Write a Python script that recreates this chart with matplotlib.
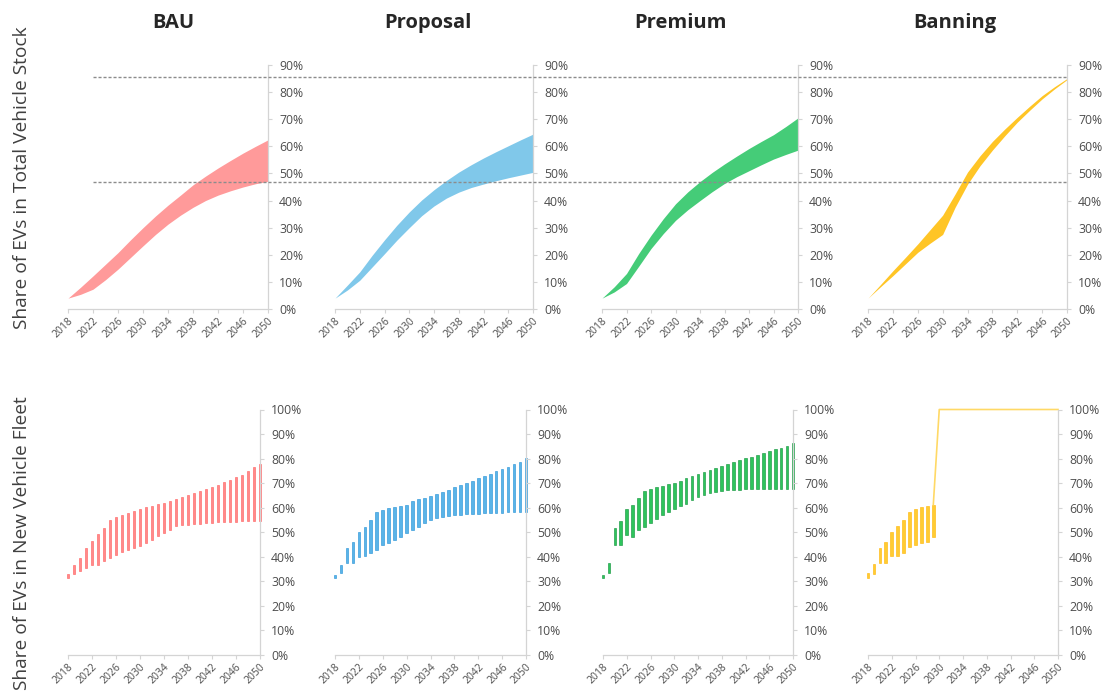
import matplotlib
matplotlib.use("Agg")
import numpy as np
import matplotlib.pyplot as plt
from matplotlib.lines import Line2D
from matplotlib.ticker import FuncFormatter

plt.rcParams["font.family"] = ["Open Sans", "DejaVu Sans"]

# ---------------- data ----------------
scenarios = ["BAU", "Proposal", "Premium", "Banning"]

# Share of EVs in total vehicle stock (%), lower / upper bound of the range
stock_years = [2018, 2020, 2022, 2024, 2026, 2028, 2030, 2032, 2034,
               2036, 2038, 2040, 2042, 2044, 2046, 2048, 2050]
bau_stock_hi = [4, 8.0, 12.2, 16.5, 20.8, 25.5, 30.0, 34.3, 38.3,
                42.0, 45.8, 49.0, 52.0, 54.8, 57.5, 60.0, 62.4]
bau_stock_lo = [4, 5.4, 7.3, 10.8, 14.7, 19.0, 23.3, 27.5, 31.3,
                34.6, 37.5, 40.0, 42.0, 43.6, 45.0, 46.2, 47.1]
prop_stock_hi = [4, 8.8, 13.7, 19.8, 25.5, 30.9, 35.8, 40.2, 44.0,
                 47.4, 50.5, 53.2, 55.7, 58.0, 60.2, 62.4, 64.5]
prop_stock_lo = [4, 7.0, 10.6, 15.5, 20.4, 25.4, 30.0, 34.4, 38.0,
                 40.9, 43.1, 44.8, 46.1, 47.3, 48.4, 49.4, 50.4]
prem_stock_hi = [4, 8.2, 13.1, 20.5, 27.2, 33.3, 38.8, 43.2, 47.0,
                 50.4, 53.5, 56.4, 59.2, 61.8, 64.3, 67.3, 70.5]
prem_stock_lo = [4, 6.3, 9.4, 15.8, 22.3, 27.8, 32.7, 36.6, 40.0,
                 43.3, 46.3, 48.8, 51.0, 53.2, 55.3, 57.0, 58.6]
ban_stock_hi = [4, 9.0, 14.1, 19.0, 24.0, 29.3, 34.6, 42.4, 50.5,
                56.5, 61.8, 66.4, 70.7, 74.8, 78.7, 82.0, 85.0]
ban_stock_lo = [4, 8.2, 12.3, 16.6, 20.9, 24.3, 27.5, 37.5, 46.0,
                52.8, 58.6, 63.9, 68.9, 73.3, 77.5, 81.2, 84.6]

# reference levels across the stock panels (%)
stock_ref_levels = [85.5, 46.7]
ref_start_year = 2022

# Share of EVs in new vehicle fleet (%), one range per year
fleet_years = list(range(2018, 2051))
bau_new_hi = [33.1, 36.8, 39.7, 43.5, 46.6, 49.2, 51.9, 55.0, 56.4, 57.1, 58.0, 58.7, 59.4,
              60.1, 60.8, 61.4, 62.1, 62.8, 63.6, 64.3, 65.0, 65.8, 66.6, 67.5, 68.4, 69.3,
              70.3, 71.3, 72.4, 73.5, 75.0, 76.4, 78.0]
bau_new_lo = [31.3, 33.1, 34.4, 35.4, 36.5, 36.7, 38.1, 39.4, 40.8, 41.8, 42.6, 43.5, 44.6,
              45.8, 46.9, 48.3, 49.7, 51.0, 52.4, 52.8, 53.0, 53.2, 53.4, 53.6, 53.8, 54.0,
              54.1, 54.2, 54.3, 54.4, 54.5, 54.6, 54.7]
prop_new_hi = [32.7, 36.6, 43.4, 46.1, 50.2, 52.2, 55.0, 58.1, 59.0, 59.7, 60.4, 60.8, 61.3,
               62.7, 63.4, 64.0, 64.7, 65.4, 66.5, 67.4, 68.5, 69.2, 70.1, 71.0, 71.9, 72.9,
               73.9, 74.9, 75.7, 76.7, 77.7, 78.7, 80.1]
prop_new_lo = [31.2, 33.2, 37.3, 37.3, 40.0, 40.3, 41.4, 42.7, 45.0, 45.7, 46.8, 48.2, 49.5,
               50.9, 52.2, 53.6, 55.0, 55.9, 56.3, 56.6, 56.9, 57.1, 57.3, 57.4, 57.5, 57.7,
               57.8, 57.9, 57.9, 58.1, 58.2, 58.2, 58.3]
prem_new_hi = [32.6, 37.3, 51.6, 54.7, 59.3, 61.1, 63.8, 66.8, 67.6, 68.4, 68.9, 69.5, 70.1,
               71.0, 71.9, 72.9, 73.7, 74.5, 75.3, 76.1, 76.9, 77.7, 78.6, 79.4, 80.1, 80.7,
               81.4, 82.1, 83.0, 83.9, 84.5, 85.3, 86.4]
prem_new_lo = [31.2, 33.2, 44.8, 44.8, 48.8, 48.2, 50.9, 52.2, 53.6, 55.6, 57.0, 58.3, 59.4,
               60.7, 61.7, 63.1, 64.2, 65.1, 65.8, 66.5, 66.9, 67.2, 67.3, 67.4, 67.6, 67.6,
               67.7, 67.7, 67.7, 67.8, 67.8, 67.8, 67.8]

ban_new_years = list(range(2018, 2030))
ban_new_hi = [33.2, 37.0, 43.4, 46.1, 50.2, 52.5, 55.0, 58.2, 59.3, 60.1, 60.8, 61.3]
ban_new_lo = [31.2, 33.0, 37.3, 37.6, 40.3, 40.3, 41.4, 44.1, 44.8, 45.5, 46.1, 48.2]
ban_full_years = list(range(2030, 2051))
ban_full_share = [100, 100, 100, 100, 100, 100, 100, 100, 100, 100, 100,
                  100, 100, 100, 100, 100, 100, 100, 100, 100, 100]

band_colors = ["#ff9a9a", "#80c8ea", "#45cc78", "#ffc526"]
bar_faces = ["#ff8a8a", "#5ab4e8", "#2ec45c", "#ffcc33"]
bar_edges = ["#ff5a5a", "#1f8fd6", "#0b8f35", "#ffb300"]

# ---------------- figure ----------------
W, H = 1109, 692
fig = plt.figure(figsize=(W / 100, H / 100), dpi=100)


def add_axes_px(x0, x1, ytop, ybot):
    return fig.add_axes([x0 / W, 1 - ybot / H, (x1 - x0) / W, (ybot - ytop) / H])


top_x = [(68, 268), (335, 533), (602, 798), (868, 1067)]
bot_x = [(68, 260), (335, 526), (603, 793), (868, 1058)]

pct = FuncFormatter(lambda v, _: f"{v:.0f}%")


def style(ax, ymax):
    ax.set_xlim(2018, 2050)
    ax.set_ylim(0, ymax)
    for s in ("top", "left"):
        ax.spines[s].set_visible(False)
    for s in ("right", "bottom"):
        ax.spines[s].set_color("#d4d4d4")
        ax.spines[s].set_linewidth(0.9)
    ax.yaxis.tick_right()
    ax.set_yticks(range(0, ymax + 1, 10))
    ax.yaxis.set_major_formatter(pct)
    ax.set_xticks(range(2018, 2051, 4))
    ax.tick_params(axis="both", colors="#d4d4d4", labelcolor="#4d4d4d", length=3, width=0.8)
    ax.tick_params(axis="y", labelsize=8.8, pad=5)
    ax.tick_params(axis="x", labelsize=7.5, pad=2)
    for lab in ax.get_xticklabels():
        lab.set_rotation(45)
        lab.set_ha("right")
        lab.set_rotation_mode("anchor")
    ax.patch.set_alpha(0)


stock_sets = [
    (bau_stock_lo, bau_stock_hi),
    (prop_stock_lo, prop_stock_hi),
    (prem_stock_lo, prem_stock_hi),
    (ban_stock_lo, ban_stock_hi),
]
fleet_sets = [
    (fleet_years, bau_new_lo, bau_new_hi),
    (fleet_years, prop_new_lo, prop_new_hi),
    (fleet_years, prem_new_lo, prem_new_hi),
    (ban_new_years, ban_new_lo, ban_new_hi),
]

top_axes = []
for i, (x0, x1) in enumerate(top_x):
    ax = add_axes_px(x0, x1, 65, 309)
    lo, hi = stock_sets[i]
    ax.fill_between(stock_years, lo, hi, color=band_colors[i], linewidth=0)
    style(ax, 90)
    top_axes.append(ax)

for i, (x0, x1) in enumerate(bot_x):
    ax = add_axes_px(x0, x1, 409.5, 655)
    yrs, lo, hi = fleet_sets[i]
    lo = np.asarray(lo)
    hi = np.asarray(hi)
    ax.bar(yrs, hi - lo, bottom=lo, width=0.45, color=bar_faces[i],
           edgecolor=bar_edges[i], linewidth=0.4, clip_on=False)
    if scenarios[i] == "Banning":
        ax.plot([ban_new_years[-1]] + ban_full_years, [ban_new_hi[-1]] + ban_full_share,
                color="#ffd966", linewidth=1.2, clip_on=False)
    style(ax, 100)

# dotted reference levels spanning all stock panels
inv = fig.transFigure.inverted()
for level in stock_ref_levels:
    xs, ys = top_axes[0].transData.transform((ref_start_year, level))
    xe, _ = top_axes[-1].transData.transform((2050, level))
    (fx0, fy), (fx1, _) = inv.transform([(xs, ys), (xe, ys)])
    fig.add_artist(Line2D([fx0, fx1], [fy, fy], color="#8c8c8c", linewidth=1.0,
                          linestyle=(0, (2.2, 1.4)), zorder=10))

# scenario titles
title_x = [173, 428, 680, 955]
for name, tx in zip(scenarios, title_x):
    fig.text(tx / W, 1 - 23 / H, name, ha="center", va="center", fontsize=14.5,
             fontweight="bold", color="#262626")

fig.text(22 / W, 1 - 178 / H, "Share of EVs in Total Vehicle Stock", rotation=90,
         ha="center", va="center", fontsize=13.8, color="#404040")
fig.text(22 / W, 1 - 543 / H, "Share of EVs in New Vehicle Fleet", rotation=90,
         ha="center", va="center", fontsize=13.8, color="#404040")

fig.savefig("out.png", dpi=100, facecolor="white")
